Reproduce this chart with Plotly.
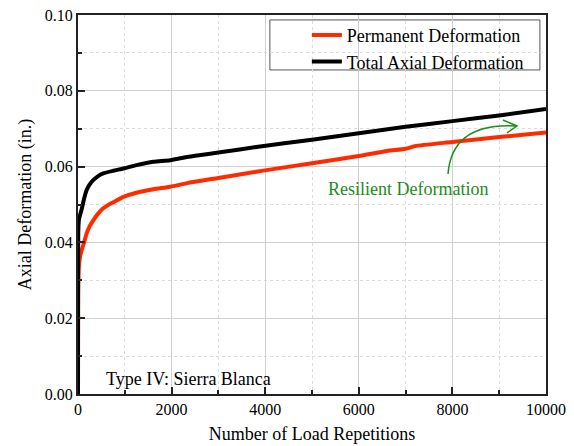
import plotly.graph_objects as go

# Data
cycles_perm = [0, 1, 3, 5, 10, 20, 40, 80, 130, 185, 250, 330, 430, 540, 650, 755, 970, 1250, 1610, 1970,
               2360, 3000, 3890, 5000, 6000, 6600, 7000, 7200, 8000, 9000, 10000]
perm_def = [0.0, 0.012, 0.022, 0.027, 0.031, 0.034, 0.036, 0.038, 0.040, 0.0424, 0.0443, 0.0459, 0.0476, 0.0490,
            0.0499, 0.0506, 0.0520, 0.0531, 0.0540, 0.0547,
            0.0557, 0.0570, 0.0588, 0.0609, 0.0628, 0.0641, 0.0647, 0.0654, 0.0665, 0.0678, 0.0690]

cycles_total = [0, 1, 3, 7, 20, 50, 80, 130, 185, 250, 330, 430, 540, 755, 970, 1250, 1610, 1970,
                2360, 3000, 3890, 5000, 6000, 7000, 8000, 9000, 10000]
total_def = [0.0, 0.025, 0.035, 0.0433, 0.046, 0.0475, 0.0488, 0.0515, 0.0538, 0.0553, 0.0565, 0.0575, 0.0582,
             0.0589, 0.0595, 0.0604, 0.0613, 0.0617,
             0.0626, 0.0637, 0.0653, 0.0671, 0.0688, 0.0705, 0.0720, 0.0735, 0.0752]

FONT = "Liberation Serif"
GREEN = "#1e8c1e"

fig = go.Figure()
fig.add_trace(go.Scatter(x=cycles_perm, y=perm_def, mode="lines", name="Permanent Deformation",
                         line=dict(color="#ff2a00", width=4, shape="spline", smoothing=0.6)))
fig.add_trace(go.Scatter(x=cycles_total, y=total_def, mode="lines", name="Total Axial Deformation",
                         line=dict(color="black", width=4, shape="spline", smoothing=0.6)))

axis_common = dict(showline=True, linecolor="#222", linewidth=2, mirror=True,
                   ticks="inside", ticklen=7, tickcolor="#222", tickwidth=1.5,
                   showgrid=True, gridcolor="#d0d0d0", gridwidth=1, zeroline=False, automargin=False,
                   tickfont=dict(family=FONT, size=16, color="black"))

fig.update_xaxes(range=[0, 10000], dtick=2000, tick0=0, tickformat="d",
                 title=dict(text="Number of Load Repetitions", font=dict(family=FONT, size=18, color="black"),
                            standoff=10),
                 minor=dict(dtick=1000, ticks="inside", ticklen=4, tickcolor="#222",
                            showgrid=True, gridcolor="#dcdcdc", griddash="dot"),
                 **axis_common)
fig.update_yaxes(range=[0, 0.1], dtick=0.02, tick0=0, tickformat=".2f",
                 title=dict(text="Axial Deformation (in.)", font=dict(family=FONT, size=18, color="black"),
                            standoff=8),
                 minor=dict(dtick=0.01, ticks="inside", ticklen=4, tickcolor="#222",
                            showgrid=True, gridcolor="#dcdcdc", griddash="dot"),
                 **axis_common)

# Curved arrow for resilient deformation
fig.add_shape(type="path", xref="x", yref="y",
              path="M 7906,0.05805 Q 7991,0.07177 9380,0.07071",
              line=dict(color=GREEN, width=1.5))
fig.add_shape(type="path", xref="x", yref="y",
              path="M 9081,0.0723 L 9380,0.07071 L 9167,0.0689",
              line=dict(color=GREEN, width=1.5))

fig.add_annotation(x=0.705, y=0.541, xref="paper", yref="paper", xanchor="center", yanchor="middle",
                   text="Resilient Deformation",
                   showarrow=False, font=dict(family=FONT, size=18, color=GREEN))
fig.add_annotation(x=0.056, y=0.04, xref="paper", yref="paper", xanchor="left", yanchor="middle",
                   text="Type IV: Sierra Blanca",
                   showarrow=False, font=dict(family=FONT, size=18, color="black"))

# legend frame
fig.add_shape(type="rect", xref="paper", yref="paper", x0=0.41, x1=0.987, y0=0.855, y1=0.987,
              line=dict(color="#555", width=1), fillcolor="white", layer="below")

fig.update_layout(
    width=574, height=446,
    margin=dict(l=78, r=28, t=15, b=52),
    plot_bgcolor="white", paper_bgcolor="white",
    font=dict(family=FONT, color="black"),
    legend=dict(x=0.489, y=0.995, xanchor="left", yanchor="top", bgcolor="rgba(0,0,0,0)",
                borderwidth=0, font=dict(family=FONT, size=18, color="black"), tracegroupgap=0,
                itemwidth=30),
    showlegend=True,
)

fig.write_html("out.html", config={"displayModeBar": False},
               post_script="document.body.style.margin='0';document.body.style.overflow='hidden';")
